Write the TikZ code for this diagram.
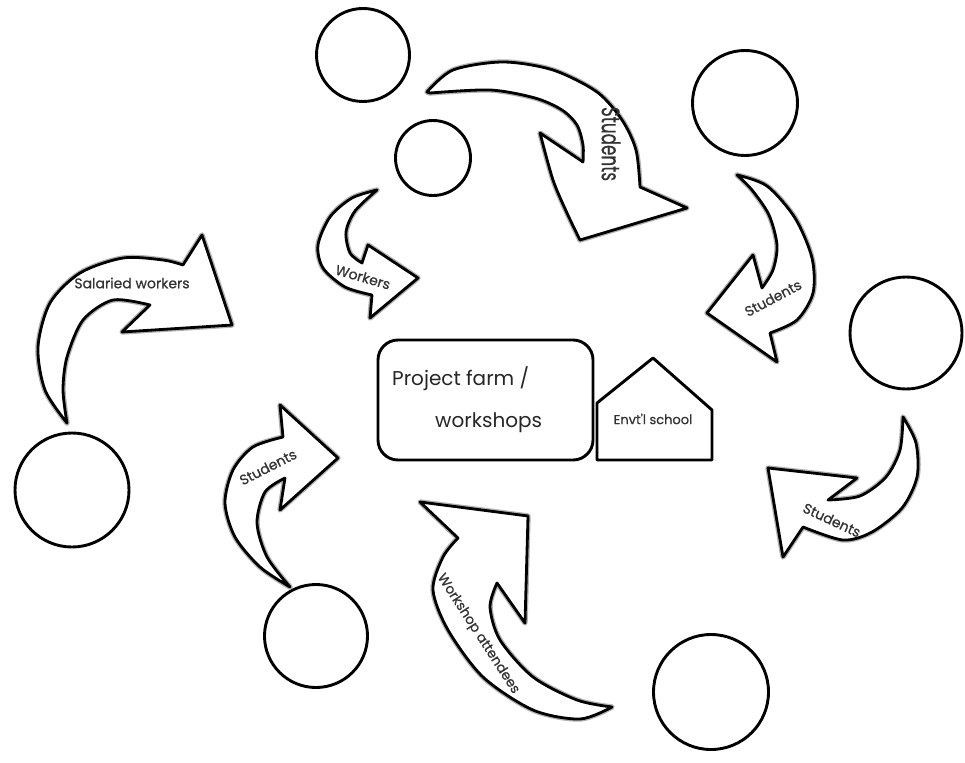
\documentclass[tikz,border=0pt]{standalone}
\usepackage{fontspec}
\setmainfont{Poppins}
\newfontfamily\lblfont{Poppins}[FakeBold=0.6]
\begin{document}
\begin{tikzpicture}[x=1pt,y=-1pt]
\tikzset{
  circ/.style={circle, draw=black, line width=2.9pt, inner sep=0pt},
  arr/.style={fill=white, draw=black, line width=2.8pt, line join=round,
    preaction={draw=black!30, line width=5.4pt, line join=round}},
  lbl/.style={text=black!80, font=\lblfont\fontsize{14}{16}\selectfont, inner sep=0pt},
  big/.style={text=black!85, font=\fontsize{20}{24}\selectfont, inner sep=0pt, anchor=base west},
  boxline/.style={draw=black, line width=2.9pt, line join=round}
}
\useasboundingbox[fill=white] (0,0) rectangle (965,762);

% circles
\node[circ, minimum size=93pt]  (c1) at (363,55)  {};
\node[circ, minimum size=75pt]  (c2) at (433,158) {};
\node[circ, minimum size=105pt] (c3) at (745,103) {};
\node[circ, minimum size=112pt] (c4) at (906,333) {};
\node[circ, minimum size=114pt] (c5) at (72,490)  {};
\node[circ, minimum size=103pt] (c6) at (316,636) {};
\node[circ, minimum size=115pt] (c7) at (711,692) {};

% centre box and house
\draw[boxline, rounded corners=20pt] (378,340) rectangle (593,460);
\draw[boxline] (597,460) -- (597,403) -- (653,358) -- (712,410) -- (712,460) -- cycle;
\node[big] (pf) at (392,385) {Project farm /};
\node[big] (ws) at (435,427) {workshops};
\node[lbl, font=\lblfont\fontsize{13}{15}\selectfont] (es) at (653,419) {Envt'l school};

% arrow 1 (top, Students)
\path[arr] plot[smooth] coordinates {(427,92) (453,70) (503,62) (553,70) (597,92) (622,120) (636,150) (640,187)}
  -- (687,208) -- plot[smooth] coordinates {(580,240) (567,213) (553,180) (540,133)}
  -- plot[smooth] coordinates {(583,162) (583,145) (577,125) (562,110) (535,98) (490,90) (430,93)} -- cycle;
\node[lbl, rotate=-90] (t1) at (611,144) {\scalebox{1.2}[1.8]{Students}};

% arrow 2 (Workers)
\path[arr] plot[smooth] coordinates {(377,190) (352,198) (330,217) (318,245) (323,268) (345,287) (372,295)}
  -- (370,318) -- (418,278) -- (368,245)
  -- plot[smooth] coordinates {(362,263) (350,253) (346,232) (355,211) (377,190)} -- cycle;
\node[lbl, rotate=-16] (t2) at (363,277) {Workers};

% arrow 3 (right, Students)
\path[arr] plot[smooth] coordinates {(737,175) (767,186) (795,218) (812,258) (813,293) (797,320) (770,333)}
  -- (777,362) -- (707,313) -- (753,255)
  -- plot[smooth] coordinates {(762,288) (773,270) (777,245) (769,215) (752,190) (737,175)} -- cycle;
\node[lbl, rotate=28] (t3) at (773,298) {Students};

% arrow 4 (bottom right, Students)
\path[arr] plot[smooth] coordinates {(903,417) (916,443) (917,477) (902,508) (872,532) (843,540) (803,527)}
  -- (783,557) -- (768,468) -- (857,478)
  -- plot[smooth] coordinates {(828,500) (860,496) (886,477) (900,450) (903,417)} -- cycle;
\node[lbl, rotate=-25] (t4) at (832,520) {Students};

% arrow 5 (Workshop attendees)
\path[arr] plot[smooth] coordinates {(612,707) (580,719) (533,710) (483,677) (448,630) (433,590) (443,557) (458,538)}
  -- (420,502) -- (528,516) -- (525,623)
  -- plot[smooth] coordinates {(497,583) (490,607) (500,640) (533,677) (577,700) (612,707)} -- cycle;
\node[lbl, rotate=-57, font=\lblfont\fontsize{13.5}{15}\selectfont] (t5) at (478,634) {Workshop attendees};

% arrow 6 (left bottom, Students)
\path[arr] plot[smooth] coordinates {(290,587) (260,567) (235,537) (225,503) (233,470) (253,447) (283,437)}
  -- (280,405) -- (338,458) -- (280,510)
  -- plot[smooth] coordinates {(285,478) (265,492) (257,523) (267,557) (290,587)} -- cycle;
\node[lbl, rotate=27] (t6) at (268,467) {Students};

% arrow 7 (Salaried workers)
\path[arr] plot[smooth] coordinates {(67,423) (45,390) (38,347) (50,303) (80,273) (123,258) (163,260) (183,265)}
  -- (202,235) -- (232,325) -- (122,332)
  -- plot[smooth] coordinates {(150,305) (113,300) (83,320) (67,357) (63,390) (67,423)} -- cycle;
\node[lbl] (t7) at (132,283) {Salaried workers};
\end{tikzpicture}
\end{document}
